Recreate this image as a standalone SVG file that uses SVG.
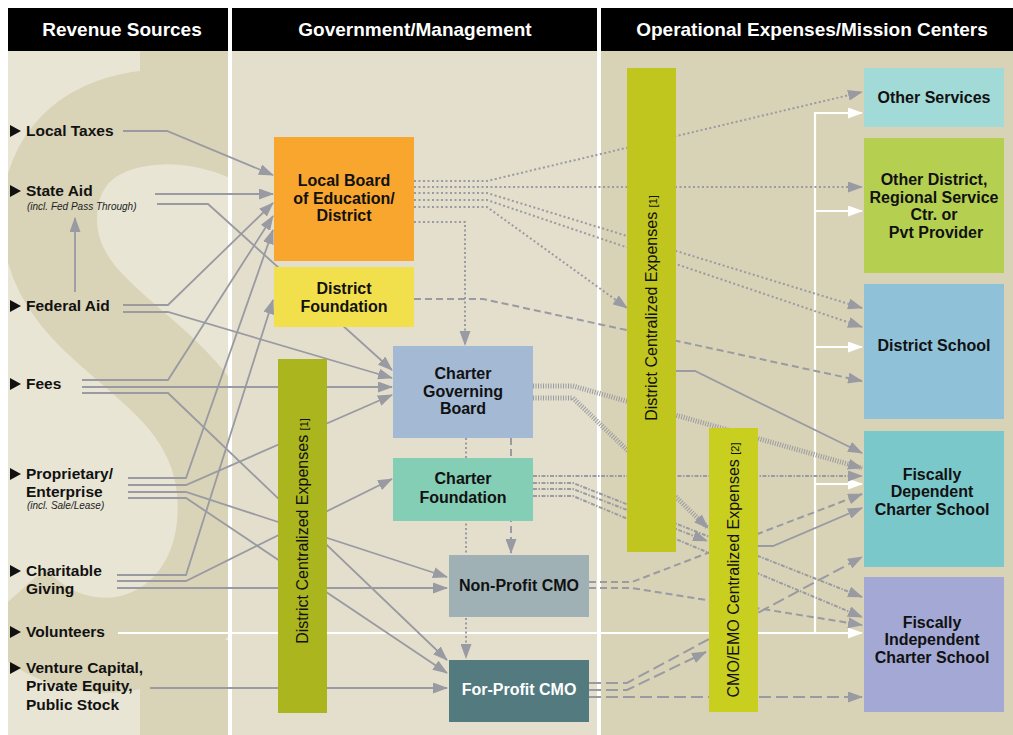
<svg xmlns="http://www.w3.org/2000/svg" width="1013" height="735" viewBox="0 0 1013 735">
<style>
text{font-family:"Liberation Sans",Arial,sans-serif;}
.hd{fill:#fff;font-size:19px;font-weight:bold;text-anchor:middle;}
.src{fill:#111;font-size:15.5px;font-weight:bold;}
.sm{fill:#222;font-size:10px;font-style:italic;}
.nt{fill:#111;font-size:16px;font-weight:bold;text-anchor:middle;}
.vt{fill:#111;font-size:16px;text-anchor:middle;}
.s{fill:none;stroke:#999aa2;stroke-width:1.8;marker-end:url(#ah);}
.d{fill:none;stroke:#999aa2;stroke-width:2;stroke-dasharray:2 2.5;marker-end:url(#ah);}
.da{fill:none;stroke:#999aa2;stroke-width:2;stroke-dasharray:7 4;marker-end:url(#ah);}
.fp{fill:none;stroke:#999aa2;stroke-width:2;stroke-dasharray:12 5;marker-end:url(#ah);}
.h{fill:none;stroke:#999aa2;stroke-width:5;stroke-dasharray:1 1.5;marker-end:url(#ah);}
.dd{fill:none;stroke:#999aa2;stroke-width:2;stroke-dasharray:4 1.5 1.5 1.5;marker-end:url(#ah);}
.w{fill:none;stroke:#fff;stroke-width:2.2;}
.wa{fill:none;stroke:#fff;stroke-width:2.2;marker-end:url(#aw);}
</style>
<defs>
<marker id="ah" markerUnits="userSpaceOnUse" markerWidth="15" markerHeight="11" refX="14" refY="5.5" orient="auto" viewBox="0 0 15 11"><path d="M0,0 L15,5.5 L0,11 Z" fill="#999aa2"/></marker>
<marker id="aw" markerUnits="userSpaceOnUse" markerWidth="15" markerHeight="11" refX="14" refY="5.5" orient="auto" viewBox="0 0 15 11"><path d="M0,0 L15,5.5 L0,11 Z" fill="#fff"/></marker>
<clipPath id="c1"><rect x="8" y="51" width="220" height="684"/></clipPath>
</defs>
<rect width="1013" height="735" fill="#fff"/>
<g id="background">
<rect x="8" y="51" width="220" height="684" fill="#e8e5d5"/>
<rect x="232" y="51" width="365" height="684" fill="#e3dfcc"/>
<rect x="601" y="51" width="412" height="684" fill="#d8d3b6"/>
<g clip-path="url(#c1)" fill="#d9d3b7">
<rect x="140" y="51" width="90" height="110"/>
<rect x="140" y="640" width="90" height="95"/>
<path d="M 275,150 C 200,95 40,100 50,230 C 60,340 220,360 225,500 C 230,640 90,690 10,600" fill="none" stroke="#d9d3b7" stroke-width="95"/>
</g>
<rect x="8" y="8" width="220" height="43" fill="#000"/>
<rect x="232" y="8" width="365" height="43" fill="#000"/>
<rect x="601" y="8" width="412" height="43" fill="#000"/>
<text class="hd" x="122" y="36">Revenue Sources</text>
<text class="hd" x="415" y="36">Government/Management</text>
<text class="hd" x="812" y="36">Operational Expenses/Mission Centers</text>
</g>
<g id="sources">
<polygon points="10,125 21,131 10,137" fill="#111"/><text class="src" x="26" y="136">Local Taxes</text>
<polygon points="10,185 21,191 10,197" fill="#111"/><text class="src" x="26" y="196">State Aid</text><text class="sm" x="27" y="210">(incl. Fed Pass Through)</text>
<polygon points="10,300 21,306 10,312" fill="#111"/><text class="src" x="26" y="311">Federal Aid</text>
<polygon points="10,378 21,384 10,390" fill="#111"/><text class="src" x="26" y="389">Fees</text>
<polygon points="10,468 21,474 10,480" fill="#111"/><text class="src" x="26" y="479">Proprietary/</text><text class="src" x="26" y="497">Enterprise</text><text class="sm" x="27" y="509">(incl. Sale/Lease)</text>
<polygon points="10,565 21,571 10,577" fill="#111"/><text class="src" x="26" y="576">Charitable</text><text class="src" x="26" y="594">Giving</text>
<polygon points="10,626 21,632 10,638" fill="#111"/><text class="src" x="26" y="637">Volunteers</text>
<polygon points="10,662 21,668 10,674" fill="#111"/><text class="src" x="26" y="673">Venture Capital,</text><text class="src" x="26" y="691">Private Equity,</text><text class="src" x="26" y="710">Public Stock</text>
</g>
<g id="connectors">
<path class="w" d="M118,633 H862"/>
<path class="wa" d="M815,633 V113 H862"/>
<path class="wa" d="M815,211 H862"/>
<path class="wa" d="M815,347 H862"/>
<path class="wa" d="M815,484 H862"/>
<path class="wa" d="M800,633 H862"/>
<path class="s" d="M123,131 H167 L273,175"/>
<path class="s" d="M155,194 H273"/>
<path class="s" d="M157,204 H208 L392,370"/>
<path class="s" d="M75,292 V218"/>
<path class="s" d="M123,305 H168 L273,203"/>
<path class="s" d="M123,312 H168 L392,378"/>
<path class="s" d="M82,380 H168 L273,216"/>
<path class="s" d="M82,387 H392"/>
<path class="s" d="M82,393 H168 L447,660"/>
<path class="s" d="M128,478 H186 L273,230"/>
<path class="s" d="M128,485 H186 L392,395"/>
<path class="s" d="M128,492 H186 L447,577"/>
<path class="s" d="M128,498 H186 L447,673"/>
<path class="s" d="M117,575 H186 L273,300"/>
<path class="s" d="M117,581 H186 L392,479"/>
<path class="s" d="M117,588 H447"/>
<path class="s" d="M150,688 H447"/>
<path class="s" d="M676,371 H695 L862,453"/>
<path class="s" d="M758,546 H773 L862,508"/>
<path class="d" d="M414,181 H487 L862,92"/>
<path class="d" d="M414,187 H862"/>
<path class="d" d="M414,193 H487 L862,308"/>
<path class="d" d="M414,200 H487 L862,327"/>
<path class="d" d="M414,207 H487 L627,308"/>
<path class="d" d="M414,222 H465 V345"/>
<path class="d" d="M466,438 V658"/>
<path class="da" d="M414,299 H483 L862,381"/>
<path class="da" d="M511,438 V553"/>
<path class="da" d="M589,582 H632 L862,494"/>
<path class="da" d="M589,588 H632 L862,625"/>
<path class="fp" d="M589,683 H627 L862,557"/>
<path class="fp" d="M589,690 H627 L706,652"/>
<path class="fp" d="M589,697 H862"/>
<path class="h" d="M533,386 H573 L862,468"/>
<path class="h" d="M533,398 H573 L708,528"/>
<path class="dd" d="M533,476 H862"/>
<path class="dd" d="M533,483 H573 L862,597"/>
<path class="dd" d="M533,489 H573 L707,541"/>
<path class="dd" d="M533,496 H573 L862,617"/>
</g>
<g id="local-board"><rect x="274" y="137" width="140" height="124" fill="#f9a62f"/><text class="nt" x="344" y="186">Local Board</text><text class="nt" x="344" y="204">of Education/</text><text class="nt" x="344" y="221">District</text></g>
<g id="district-foundation"><rect x="274" y="267" width="140" height="60" fill="#f2df4c"/><text class="nt" x="344" y="294">District</text><text class="nt" x="344" y="312">Foundation</text></g>
<g id="charter-governing-board"><rect x="393" y="346" width="140" height="92" fill="#a3b9d4"/><text class="nt" x="463" y="379">Charter</text><text class="nt" x="463" y="397">Governing</text><text class="nt" x="463" y="414">Board</text></g>
<g id="charter-foundation"><rect x="393" y="458" width="140" height="63" fill="#84ceb5"/><text class="nt" x="463" y="484">Charter</text><text class="nt" x="463" y="503">Foundation</text></g>
<g id="nonprofit-cmo"><rect x="449" y="555" width="140" height="62" fill="#9fb1b5"/><text class="nt" x="519" y="591">Non-Profit CMO</text></g>
<g id="forprofit-cmo"><rect x="449" y="660" width="140" height="62" fill="#527a7f"/><text class="nt" x="519" y="695" fill="#fff" style="fill:#fff">For-Profit CMO</text></g>
<g id="dce-left"><rect x="278" y="359" width="49" height="354" fill="#abb51d"/><text class="vt" transform="translate(308,531) rotate(-90)">District Centralized Expenses <tspan font-size="11">[1]</tspan></text></g>
<g id="dce-right"><rect x="627" y="68" width="49" height="484" fill="#c0c61e"/><text class="vt" transform="translate(657,308) rotate(-90)">District Centralized Expenses <tspan font-size="11">[1]</tspan></text></g>
<g id="cmo-emo"><rect x="709" y="428" width="49" height="284" fill="#c8cf1f"/><text class="vt" transform="translate(739,570) rotate(-90)">CMO/EMO Centralized Expenses <tspan font-size="11">[2]</tspan></text></g>
<g id="other-services"><rect x="864" y="68" width="140" height="59" fill="#a2dad7"/><text class="nt" x="934" y="103">Other Services</text></g>
<g id="other-district"><rect x="864" y="138" width="140" height="135" fill="#b5d050"/><text class="nt" x="934" y="185">Other District,</text><text class="nt" x="934" y="203">Regional Service</text><text class="nt" x="934" y="220">Ctr. or</text><text class="nt" x="936" y="238">Pvt Provider</text></g>
<g id="district-school"><rect x="864" y="284" width="140" height="135" fill="#8fc1d9"/><text class="nt" x="934" y="351">District School</text></g>
<g id="fiscally-dependent"><rect x="864" y="431" width="140" height="136" fill="#7bc8ca"/><text class="nt" x="932" y="480">Fiscally</text><text class="nt" x="932" y="497">Dependent</text><text class="nt" x="932" y="515">Charter School</text></g>
<g id="fiscally-independent"><rect x="864" y="577" width="140" height="135" fill="#a3a8d5"/><text class="nt" x="932" y="628">Fiscally</text><text class="nt" x="932" y="645">Independent</text><text class="nt" x="932" y="663">Charter School</text></g>
</svg>
